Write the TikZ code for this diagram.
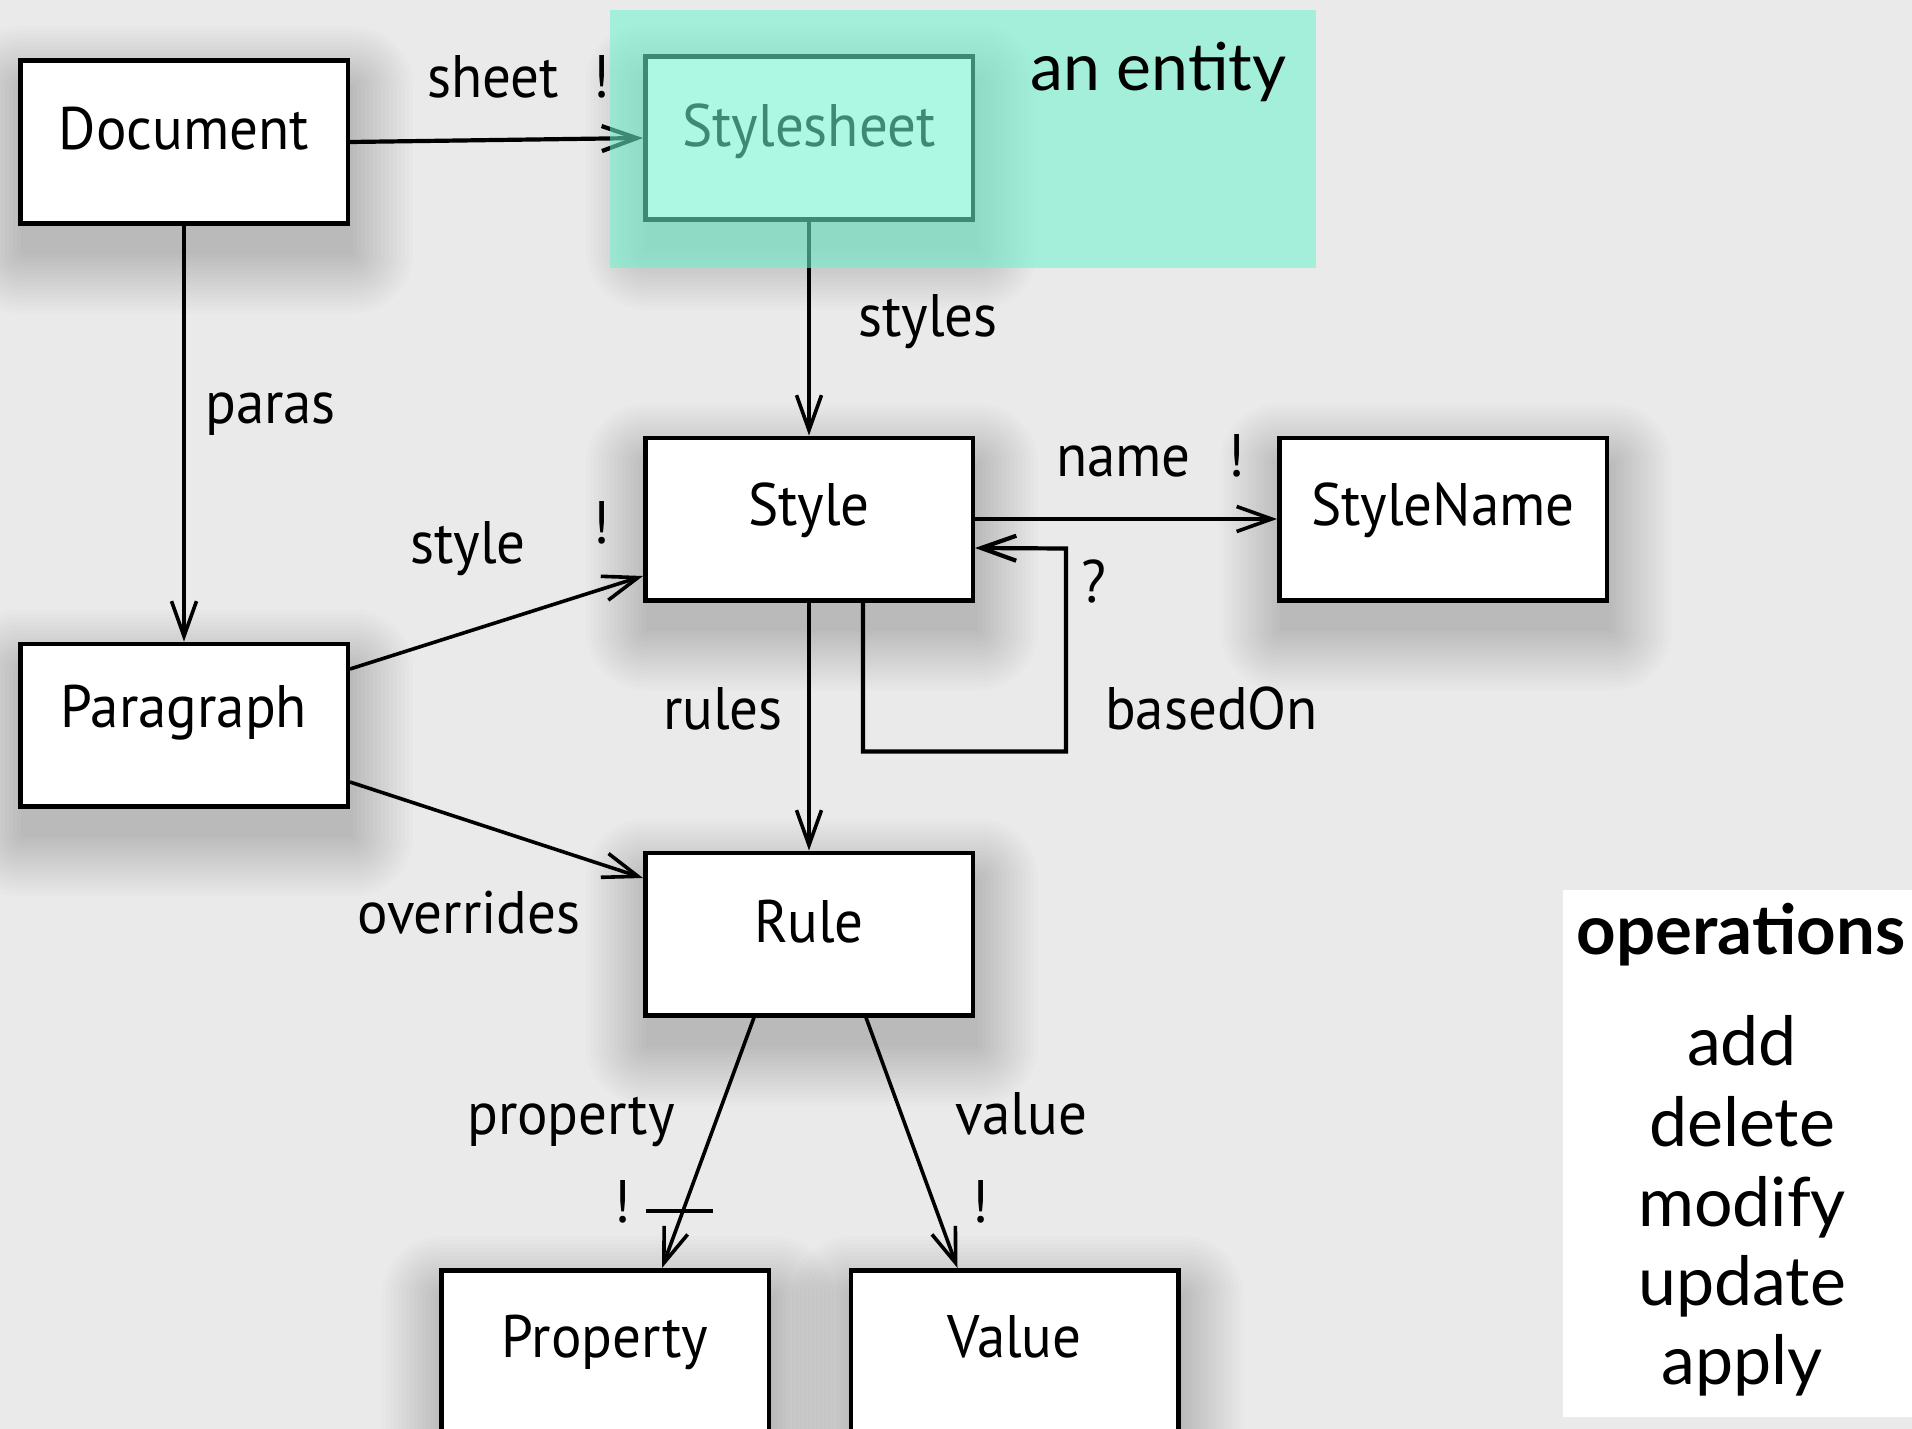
\documentclass[tikz,border=0pt]{standalone}
\usepackage{fontspec}
\newfontfamily\dfont[FakeStretch=0.95]{PT Sans}
\newfontfamily\gfont{Lato}
\usetikzlibrary{arrows.meta,calc}
\definecolor{bg}{RGB}{234,234,234}
\definecolor{entgreen}{RGB}{111,244,205}
\pgfdeclarelayer{back}
\pgfdeclarelayer{shad}
\pgfsetlayers{back,shad,main}
\newcommand\boxshadow[1]{%
  \foreach \r in {0,4,...,60}{%
    \fill[black, opacity=0.0115, rounded corners=\r pt]
      ([xshift={3-\r}, yshift={-28+\r}]#1.north west) rectangle
      ([xshift={3+\r}, yshift={-28-\r}]#1.south east);}}
\begin{document}
\begin{tikzpicture}[x=1pt,y=-1pt,
  box/.style={draw=black, fill=white, line width=4.5pt, minimum width=327.5pt, minimum height=162.5pt, inner sep=0pt},
  dtxt/.style={font=\dfont\fontsize{60}{72}\selectfont, inner sep=0pt},
  boxtext/.style={dtxt, anchor=base},
  lbl/.style={dtxt, anchor=base west},
  excl/.style={dtxt, anchor=base},
  conn/.style={line width=3.6pt, -{Straight Barb[length=35pt,width=25pt]}},
  gtxt/.style={font=\gfont\fontsize{68}{80}\selectfont, inner sep=0pt},
]
\useasboundingbox (0,0) rectangle (1912,1429);
\clip (0,0) rectangle (1912,1429);
\begin{pgfonlayer}{back}
\fill[bg] (0,0) rectangle (1912,1429);
\end{pgfonlayer}

% boxes
\node[box] (doc) at (184,142) {};
\node[box] (ss) at (809,138) {};
\node[box] (style) at (809,519) {};
\node[box] (sname) at (1443,519) {};
\node[box] (para) at (184,725) {};
\node[box] (rule) at (809,934) {};
\node[box] (prop) at (605,1351.5) {};
\node[box] (val) at (1014.5,1351.5) {};

\begin{pgfonlayer}{shad}
\boxshadow{doc}\boxshadow{ss}\boxshadow{style}\boxshadow{sname}
\boxshadow{para}\boxshadow{rule}\boxshadow{prop}\boxshadow{val}
\end{pgfonlayer}

% box texts
\node[boxtext] (doct) at ([yshift=-91pt]doc.north) {Document};
\node[boxtext] (sst) at ([yshift=-92pt]ss.north) {Stylesheet};
\node[boxtext] (stylet) at ([yshift=-90pt]style.north) {Style};
\node[boxtext] (snamet) at ([yshift=-90pt]sname.north) {StyleName};
\node[boxtext] (parat) at ([yshift=-86pt]para.north) {Paragraph};
\node[boxtext] (rulet) at ([yshift=-92pt]rule.north) {Rule};
\node[boxtext] (propt) at ([yshift=-89pt]prop.north) {Property};
\node[boxtext] (valt) at ([yshift=-89pt]val.north) {Value};

% connectors
\draw[conn, line width=4.2pt] (doc.east) -- (ss.west);
\draw[conn] (ss.south) -- (style.north);
\draw[conn] (doc.south) -- (para.north);
\draw[conn] (style.east) -- (sname.west);
\draw[conn, line width=4.2pt] ([xshift=54pt]style.south) -- ++(0,149) -- ++(203,0) -- ++(0,-203) -- ([yshift=-29pt]style.east);
\draw[conn] (style.south) -- (rule.north);
\draw[conn] ([yshift=56pt]para.east) -- ([yshift=-57pt]style.west);
\draw[conn] ([yshift=-57pt]para.east) -- ([yshift=56pt]rule.west);
\draw[conn] ([xshift=-55pt]rule.south) -- coordinate[pos=0.773] (pbar) ([xshift=57pt]prop.north);
\draw[conn] ([xshift=57pt]rule.south) -- ([xshift=-57pt]val.north);
\draw[line width=4pt] ([xshift=-37pt]pbar) -- ([xshift=30pt]pbar);

% labels
\node[lbl] (lsheet) at (427,97) {sheet};
\node[excl] (xsheet) at (601,97) {!};
\node[lbl] (lstyles) at (858,336) {styles};
\node[lbl] (lparas) at (205,423) {paras};
\node[lbl] (lname) at (1056,476) {name};
\node[excl] (xname) at (1236,476) {!};
\node[lbl] (lstyle) at (410,563) {style};
\node[excl] (xstyle) at (601,543) {!};
\node[excl] (qbased) at (1094,602) {?};
\node[lbl] (lbased) at (1105,729) {basedOn};
\node[lbl] (lrules) at (663,729) {rules};
\node[lbl] (lover) at (357,933) {overrides};
\node[lbl] (lprop) at (467,1134) {property};
\node[lbl] (lval) at (955,1134) {value};
\node[excl] (xprop) at (622,1222) {!};
\node[excl] (xval) at (980,1222) {!};

% entity highlight
\fill[entgreen, opacity=0.565] (610,10) rectangle (1316,268);
\node[gtxt, anchor=base west, font=\gfont\fontsize{66}{78}\selectfont] (ent) at (1030,91) {an entity};

% operations panel
\node[fill=white, minimum width=349pt, minimum height=527pt, inner sep=0pt, anchor=north west] (ops) at (1563,890) {};
\node[gtxt, anchor=base, font=\gfont\bfseries\fontsize{69}{80}\selectfont] (opst) at (1741,954) {operations};
\node[gtxt, anchor=base] (op1) at (1742,1065) {add};
\node[gtxt, anchor=base] (op2) at (1742,1146) {delete};
\node[gtxt, anchor=base] (op3) at (1742,1226) {modify};
\node[gtxt, anchor=base] (op4) at (1742,1305) {update};
\node[gtxt, anchor=base] (op5) at (1742,1384) {apply};
\end{tikzpicture}
\end{document}
